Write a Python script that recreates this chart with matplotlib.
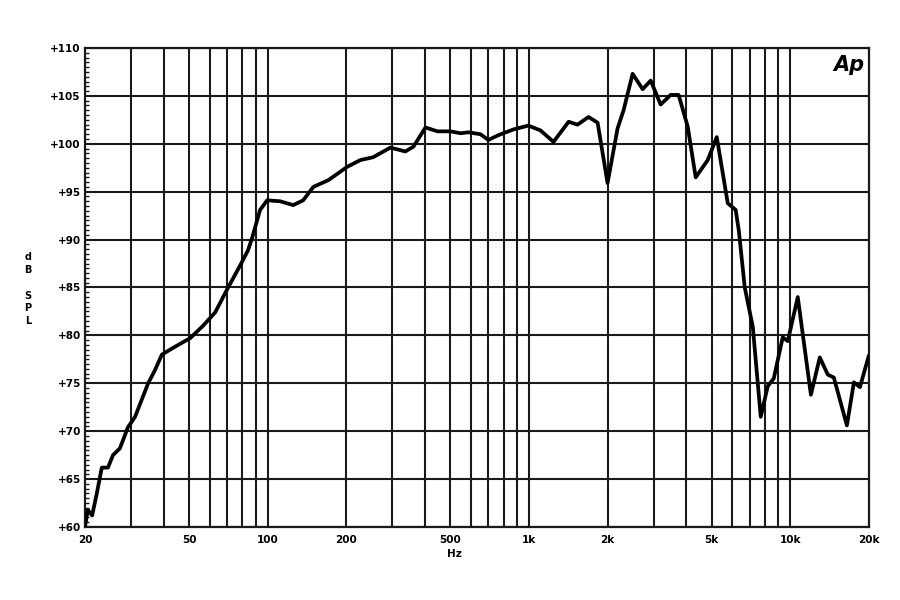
import matplotlib.pyplot as plt
from matplotlib.ticker import FixedLocator, NullFormatter, NullLocator

# Frequency response (Hz, dB SPL)
freq_hz = [20, 20.5, 21.3, 22.2, 23.2, 24.5, 25.6, 27.2, 29.2, 31.1, 34.9, 37.1,
           39.4, 43.5, 47.5, 50.5, 56.6, 63.0, 70.0, 78.5, 84.2, 87.3, 93.6,
           99.6, 111.7, 125.3,
           136.8, 149.6, 170.7, 201.8, 226.4, 253.6, 295, 336.6, 361.5, 401.9,
           446.8, 500.6, 547.4, 586.7, 652, 700, 764, 873, 995, 1107, 1242,
           1419, 1535, 1691, 1832, 2000, 2184, 2303, 2494, 2725, 2925, 3193,
           3487, 3741, 4053, 4348, 4834, 5235, 5768, 6184, 6355, 6700, 7192,
           7713, 8205, 8651, 9363, 9790, 10690, 12000, 12980, 13930, 14690,
           16480, 17530, 18490, 20000]
spl_db = [60.0, 61.8, 61.2, 63.5, 66.2, 66.2, 67.5, 68.2, 70.4, 71.5, 75.0, 76.4,
          78.0, 78.7, 79.3, 79.7, 81.0, 82.4, 84.8, 87.3, 88.9, 90.2, 93.1,
          94.1, 94.0, 93.6,
          94.1, 95.5, 96.2, 97.6, 98.3, 98.6, 99.6, 99.2, 99.7, 101.7,
          101.3, 101.3, 101.1, 101.2, 101.0, 100.4, 100.9, 101.5, 101.9, 101.4, 100.2,
          102.3, 102.0, 102.8, 102.2, 95.9, 101.6, 103.5, 107.3, 105.7, 106.6, 104.1,
          105.1, 105.1, 101.8, 96.5, 98.3, 100.7, 93.8, 93.1, 91.0, 85.0, 80.9,
          71.5, 74.7, 75.5, 79.8, 79.4, 84.0, 73.8, 77.7, 75.9, 75.6,
          70.6, 75.1, 74.6, 77.9]

grid_freqs = [30, 40, 50, 60, 70, 80, 90, 100, 200, 300, 400, 500, 600, 700,
              800, 900, 1000, 2000, 3000, 4000, 5000, 6000, 7000, 8000, 9000,
              10000]
x_ticks = [20, 50, 100, 200, 500, 1000, 2000, 5000, 10000, 20000]
x_labels = ['20', '50', '100', '200', '500', '1k', '2k', '5k', '10k', '20k']
y_ticks = list(range(60, 111, 5))
y_labels = [f'+{v}' for v in y_ticks]

fig = plt.figure(figsize=(9, 6), dpi=100)
ax = fig.add_axes([0.0944, 0.1217, 0.871, 0.7983])

grid_color = '#1a1a1a'
for f in grid_freqs:
    ax.axvline(f, color=grid_color, lw=1.5, zorder=1)
for v in y_ticks:
    ax.axhline(v, color=grid_color, lw=1.5, zorder=1)

ax.plot(freq_hz, spl_db, color='black', lw=2.7, solid_joinstyle='round',
        solid_capstyle='round', zorder=3)

ax.set_xscale('log')
ax.set_xlim(20, 20000)
ax.set_ylim(60, 110)

ax.xaxis.set_major_locator(FixedLocator(x_ticks))
ax.xaxis.set_minor_locator(NullLocator())
ax.xaxis.set_minor_formatter(NullFormatter())
ax.set_xticklabels(x_labels, fontsize=7.5, fontweight='bold')
ax.set_yticks(y_ticks)
ax.set_yticklabels(y_labels, fontsize=7.5, fontweight='bold')
ax.yaxis.set_minor_locator(FixedLocator([v / 2 for v in range(120, 221)]))

ax.tick_params(axis='x', which='major', length=0, pad=6)
ax.tick_params(axis='y', which='major', length=0, pad=3)
ax.tick_params(axis='y', which='minor', direction='in', length=3, width=1,
               color=grid_color)

for s in ax.spines.values():
    s.set_color(grid_color)
    s.set_linewidth(1.6)

fig.text(0.505, 0.072, 'Hz', fontsize=7.5, fontweight='bold', ha='center')
fig.text(0.031, 0.518, 'd\nB\n\nS\nP\nL', fontsize=7, fontweight='bold',
         ha='center', va='center', linespacing=1.35)
ax.text(0.995, 0.985, 'Ap', transform=ax.transAxes, fontsize=15,
        fontweight='bold', fontstyle='italic', ha='right', va='top', zorder=4)

fig.savefig('out.png', dpi=100)
